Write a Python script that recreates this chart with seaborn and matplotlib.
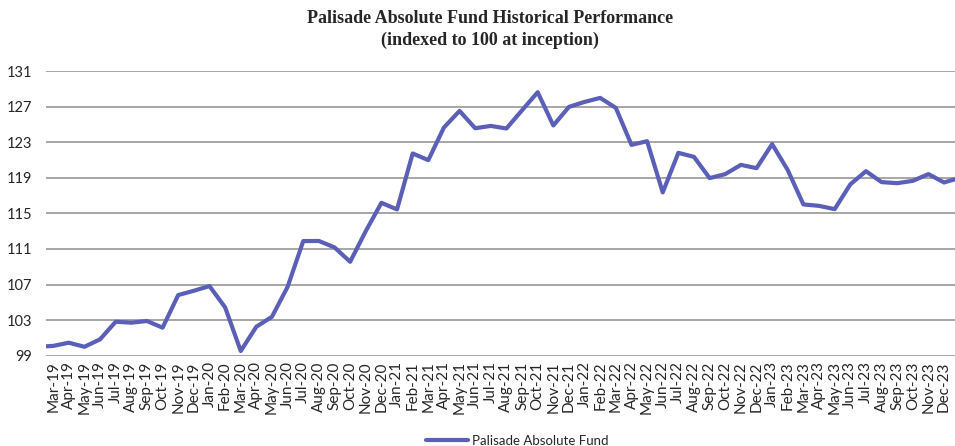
import pandas as pd
import matplotlib.pyplot as plt
import seaborn as sns

# monthly index values, Feb-19 (inception) and Jan-24 sit just outside the visible range
months = pd.date_range("2019-02-01", "2024-01-01", freq="MS")
values = [100.0,
          100.1, 100.46, 100.0, 100.84, 102.82, 102.71, 102.9, 102.15, 105.82, 106.3,
          106.83, 104.44, 99.53, 102.26, 103.38, 106.75, 111.89, 111.9, 111.18, 109.56,
          113.01, 116.19, 115.45, 121.74, 120.99, 124.66, 126.53, 124.58, 124.84, 124.55,
          126.6, 128.63, 124.89, 126.98, 127.54, 127.99, 126.87, 122.71, 123.12, 117.36,
          121.81, 121.36, 118.97, 119.42, 120.46, 120.09, 122.79, 119.87, 116.01, 115.85,
          115.48, 118.26, 119.75, 118.52, 118.4, 118.66, 119.42, 118.48,
          119.0]
series_name = "Palisade Absolute Fund"
title = "Palisade Absolute Fund Historical Performance\n(indexed to 100 at inception)"
y_ticks = [99, 103, 107, 111, 115, 119, 123, 127, 131]

df = pd.DataFrame({"month": months, "value": values})
df["pos"] = range(-1, len(df) - 1)
shown = df[(df["pos"] >= 0) & (df["pos"] <= 57)]
tick_labels = shown["month"].dt.strftime("%b-%y").tolist()

sns.set_style("white")
plt.rcParams["font.family"] = ["Lato", "DejaVu Sans"]

fig = plt.figure(figsize=(9.55, 4.46), dpi=100)
ax = fig.add_axes([0.048, 0.2025, 0.952, 0.638])

sns.lineplot(data=df, x="pos", y="value", ax=ax, color="#5A5FB7",
             linewidth=3, label=series_name, legend=False)

ax.set_xlim(-0.47, 57.7)
ax.set_ylim(99, 131)
ax.set_yticks(y_ticks)
ax.set_xticks(shown["pos"])
ax.set_xticklabels(tick_labels, rotation=90, fontsize=11)
ax.tick_params(axis="y", labelsize=10.5, length=0, pad=10)
ax.tick_params(axis="x", length=0, pad=4)
ax.yaxis.grid(True, color="#A6A6A6", linewidth=1.4)
ax.set_axisbelow(True)
for s in ax.spines.values():
    s.set_visible(False)
ax.set_xlabel("")
ax.set_ylabel("")

fig.text(0.513, 0.978, title, ha="center", va="top", fontsize=13,
         fontweight="bold", family="Liberation Serif", linespacing=1.38)

h, l = ax.get_legend_handles_labels()
fig.legend(h, l, loc="center", bbox_to_anchor=(0.542, 0.012), frameon=False,
           fontsize=9.5, handlelength=3.2, handletextpad=0.3)

fig.savefig("out.png", dpi=100)
